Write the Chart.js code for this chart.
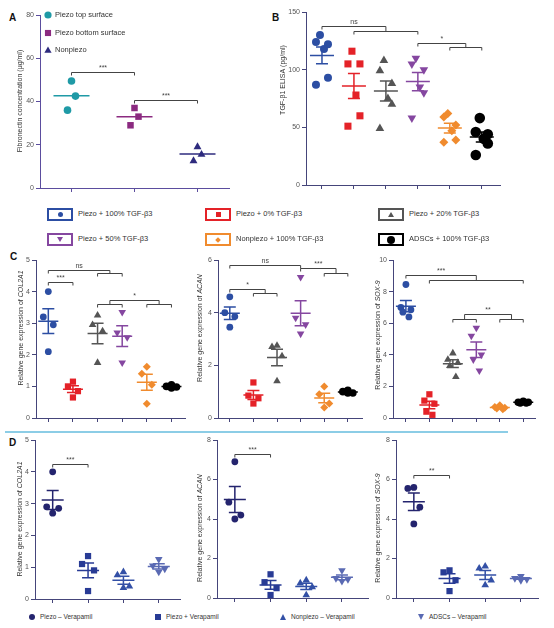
<!DOCTYPE html>
<html>
<head>
<meta charset="utf-8">
<script src="https://cdn.jsdelivr.net/npm/chart.js@4.4.0/dist/chart.umd.min.js"></script>
<style>
  body { margin: 0; width: 554px; height: 628px; position: relative; background: #fff; overflow: hidden;
         font-family: "Liberation Sans", Arial, sans-serif; }
  canvas { position: absolute; }
  .letter { position: absolute; font-weight: bold; font-size: 10px; color: #111; }
  .sep { position: absolute; left: 5px; top: 431px; width: 503px; height: 2px; background: #8ccde6; }
  .box { position: absolute; width: 22px; height: 9px; border: 2px solid; display: flex; align-items: center; justify-content: center; }
  .ltxt { position: absolute; font-size: 7.5px; color: #333; white-space: nowrap; line-height: 10px; }
  .dtxt { position: absolute; font-size: 6.5px; color: #333; white-space: nowrap; line-height: 8px; }
  .mk { position: absolute; }
</style>
</head>
<body>
<div class="letter" style="left:9px;top:12px">A</div>
<div class="letter" style="left:272px;top:12px">B</div>
<div class="letter" style="left:10px;top:251px">C</div>
<div class="letter" style="left:9px;top:437px">D</div>
<div class="sep"></div>
<div id="root"></div>
<script>
// ---- panel A: fibronectin (µg/ml)
const aSeries = ['Piezo top surface', 'Piezo bottom surface', 'Nonpiezo'];
const aTop = [49.5, 42.5, 36];
const aBottom = [37, 33, 29];
const aNon = [19, 15.5, 12.5];

// ---- panel B / C groups
const bcGroups = ['Piezo + 100% TGF-β3', 'Piezo + 0% TGF-β3', 'Piezo + 20% TGF-β3',
                  'Piezo + 50% TGF-β3', 'Nonpiezo + 100% TGF-β3', 'ADSCs + 100% TGF-β3'];
// B: TGF-β1 ELISA (pg/ml), one array per group
const bTgf = [
  [130, 124, 122, 118, 93, 87],
  [116, 105, 105, 78, 60, 51],
  [108, 99, 88, 75, 70, 49],
  [110, 105, 100, 85, 80, 58],
  [62, 59, 52, 47, 39, 37],
  [58, 46, 44, 40, 36, 26]
];
// C: relative gene expression
const cCol2a1 = [
  [4.0, 3.2, 2.95, 2.1],
  [1.15, 1.0, 0.85, 0.65],
  [3.25, 2.95, 2.75, 1.75],
  [3.35, 2.7, 2.55, 1.75],
  [1.62, 1.4, 1.05, 0.45],
  [1.05, 1.0, 0.98, 0.95]
];
const cAcan = [
  [4.6, 4.0, 3.85, 3.45],
  [1.35, 0.85, 0.75, 0.55],
  [2.75, 2.7, 2.35, 1.4],
  [5.35, 3.8, 3.55, 3.2],
  [1.2, 0.9, 0.55, 0.4],
  [1.05, 1.0, 0.95, 0.95]
];
const cSox9 = [
  [8.45, 7.0, 6.85, 6.7, 6.4],
  [1.5, 1.1, 0.9, 0.4, 0.2],
  [4.1, 3.7, 3.5, 3.3, 2.6],
  [5.7, 5.2, 4.0, 3.7, 3.0],
  [0.8, 0.7, 0.65, 0.6, 0.55],
  [1.05, 1.0, 1.0, 0.95, 0.95]
];

// ---- panel D: verapamil
const dGroups = ['Piezo – Verapamil', 'Piezo + Verapamil', 'Nonpiezo – Verapamil', 'ADSCs – Verapamil'];
const dCol2a1 = [
  [4.0, 2.9, 2.85, 2.7],
  [1.35, 1.1, 0.9, 0.25],
  [0.85, 0.75, 0.4, 0.35],
  [1.25, 1.05, 0.95, 0.85]
];
const dAcan = [
  [6.9, 4.85, 4.2, 4.0],
  [1.2, 0.8, 0.5, 0.15],
  [0.9, 0.75, 0.55, 0.15],
  [1.4, 1.0, 0.95, 0.85]
];
const dSox9 = [
  [5.6, 5.55, 4.6, 3.75],
  [1.4, 1.3, 0.9, 0.35],
  [1.6, 1.5, 0.9, 0.65],
  [1.1, 1.0, 0.95, 0.9]
];

const FF = '"Liberation Sans", Arial, sans-serif';
const aColors = ['#1f9aa6', '#8b2a80', '#2e2b7e'];
const bcColors = ['#2c4ea3', '#e42228', '#555555', '#8547a0', '#f08b2e', '#000000'];
const dColors = ['#24246e', '#283b95', '#3350a6', '#5a6ab3'];
const bcStyles = ['circle', 'rect', 'triangle', 'triangleDown', 'rectRot', 'circle'];
const dStyles = ['circle', 'rect', 'triangle', 'triangleDown'];
const jitterPx = { 3: [0, 4, -4], 4: [0, -5, 5, 0], 5: [0, -5, 5, -3, 3], 6: [-2, -6, 6, 2, 6, -6] };

function drawShape(ctx, style, x, y, r, color) {
  ctx.fillStyle = color;
  ctx.beginPath();
  if (style === 'circle') ctx.arc(x, y, r, 0, Math.PI * 2);
  else if (style === 'rect') { const s = r * 0.85; ctx.rect(x - s, y - s, 2 * s, 2 * s); }
  else if (style === 'triangle') { ctx.moveTo(x, y - r); ctx.lineTo(x + r, y + r * 0.75); ctx.lineTo(x - r, y + r * 0.75); }
  else if (style === 'triangleDown') { ctx.moveTo(x, y + r); ctx.lineTo(x + r, y - r * 0.75); ctx.lineTo(x - r, y - r * 0.75); }
  else if (style === 'rectRot') { ctx.moveTo(x, y - r); ctx.lineTo(x + r, y); ctx.lineTo(x, y + r); ctx.lineTo(x - r, y); }
  ctx.closePath();
  ctx.fill();
}

function drawYTitle(ctx, parts, cx, cy) {
  ctx.save();
  ctx.translate(cx, cy);
  ctx.rotate(-Math.PI / 2);
  const fonts = parts.map(p => (p.i ? 'italic ' : '') + '7px ' + FF);
  const widths = parts.map((p, k) => { ctx.font = fonts[k]; return ctx.measureText(p.t).width; });
  let x = -widths.reduce((a, b) => a + b, 0) / 2;
  ctx.textAlign = 'left';
  ctx.textBaseline = 'middle';
  ctx.fillStyle = '#333';
  parts.forEach((p, k) => { ctx.font = fonts[k]; ctx.fillText(p.t, x, 0); x += widths[k]; });
  ctx.restore();
}

function overlay(p) {
  return {
    id: 'overlay',
    afterDatasetsDraw(chart) {
      const ctx = chart.ctx, xs = chart.scales.x, ys = chart.scales.y;
      ctx.save();
      ctx.lineWidth = p.lw;
      p.groups.forEach((vals, g) => {
        const n = vals.length;
        const m = vals.reduce((a, b) => a + b, 0) / n;
        const sd = Math.sqrt(vals.reduce((a, v) => a + (v - m) * (v - m), 0) / (n - 1));
        const sem = sd / Math.sqrt(n);
        const cx = xs.getPixelForValue(g + 1), my = ys.getPixelForValue(m);
        ctx.strokeStyle = p.colors[g];
        ctx.beginPath();
        ctx.moveTo(cx - p.meanHW, my); ctx.lineTo(cx + p.meanHW, my);
        if (p.sem) {
          const t = ys.getPixelForValue(m + sem), b = ys.getPixelForValue(m - sem);
          ctx.moveTo(cx, t); ctx.lineTo(cx, b);
          ctx.moveTo(cx - p.capHW, t); ctx.lineTo(cx + p.capHW, t);
          ctx.moveTo(cx - p.capHW, b); ctx.lineTo(cx + p.capHW, b);
        }
        ctx.stroke();
      });
      ctx.restore();
    },
    afterDraw(chart) {
      const ctx = chart.ctx, xs = chart.scales.x, ys = chart.scales.y;
      ctx.save();
      // significance brackets
      ctx.strokeStyle = '#444';
      ctx.lineWidth = 1;
      ctx.fillStyle = '#444';
      ctx.font = '7px ' + FF;
      ctx.textAlign = 'center';
      ctx.textBaseline = 'bottom';
      const drop = 3;
      (p.brackets || []).forEach(br => {
        const py = Math.round(ys.getPixelForValue(br.y)) + 0.5;
        const side = s => {
          if (Array.isArray(s)) {
            const py2 = Math.round(ys.getPixelForValue(br.y2)) + 0.5;
            const x1 = xs.getPixelForValue(s[0]), x2 = xs.getPixelForValue(s[1]);
            ctx.beginPath();
            ctx.moveTo(x1, py2 + drop); ctx.lineTo(x1, py2); ctx.lineTo(x2, py2); ctx.lineTo(x2, py2 + drop);
            ctx.stroke();
            return { x: (x1 + x2) / 2, to: py2 };
          }
          return { x: xs.getPixelForValue(s), to: py + drop };
        };
        const L = side(br.a), R = side(br.b);
        ctx.beginPath();
        ctx.moveTo(L.x, L.to); ctx.lineTo(L.x, py); ctx.lineTo(R.x, py); ctx.lineTo(R.x, R.to);
        ctx.stroke();
        ctx.fillText(br.t, (L.x + R.x) / 2, py - 1);
      });
      // y axis title
      const top = p.canvasTop, left = p.canvasLeft;
      drawYTitle(ctx, p.title, p.titleX - left, p.titleY - top);
      // in-plot legend (panel A)
      if (p.legend) {
        ctx.textAlign = 'left';
        ctx.textBaseline = 'middle';
        ctx.font = '7.5px ' + FF;
        p.legend.labels.forEach((lab, k) => {
          const x = p.legend.x - left, y = p.legend.ys[k] - top;
          drawShape(ctx, p.legend.styles[k], x, y, 3.6, p.colors[k]);
          ctx.fillStyle = '#333';
          ctx.fillText(lab, x + 7, y);
        });
      }
      ctx.restore();
    }
  };
}

function makePanel(p) {
  const yw = 40, padTop = 10, padRight = 6, xh = 10;
  p.canvasLeft = p.axisX - yw;
  p.canvasTop = p.yTop - padTop;
  const w = p.xEnd + padRight - p.canvasLeft;
  const h = p.yBot + xh - p.canvasTop;
  const cv = document.createElement('canvas');
  cv.width = w; cv.height = h;
  cv.style.left = p.canvasLeft + 'px';
  cv.style.top = p.canvasTop + 'px';
  document.getElementById('root').appendChild(cv);

  const spacing = (p.xEnd - p.axisX) / (p.xMax - p.xMin);
  const datasets = p.groups.map((vals, g) => {
    const jit = jitterPx[vals.length] || [];
    const st = p.styles[g];
    return {
      data: vals.map((v, i) => ({ x: g + 1 + (jit[i] || 0) * p.jitter / spacing, y: v })),
      pointStyle: st === 'triangleDown' ? 'triangle' : st,
      rotation: st === 'triangleDown' ? 180 : 0,
      pointRadius: p.radii[g],
      backgroundColor: p.colors[g],
      borderColor: p.colors[g],
      borderWidth: 0,
      showLine: false
    };
  });
  const axisColor = p.axisColor || '#45457a';
  const n = p.groups.length;
  new Chart(cv, {
    type: 'scatter',
    data: { datasets },
    options: {
      responsive: false,
      animation: false,
      devicePixelRatio: 1,
      layout: { padding: { left: 0, top: padTop, right: padRight, bottom: 0 } },
      plugins: { legend: { display: false }, tooltip: { enabled: false } },
      scales: {
        x: {
          type: 'linear', min: p.xMin, max: p.xMax,
          afterBuildTicks: s => { s.ticks = Array.from({ length: n }, (_, i) => ({ value: i + 1 })); },
          afterFit: s => { s.height = xh; },
          ticks: { display: false },
          grid: { display: true, drawOnChartArea: false, drawTicks: true, tickLength: 4, color: axisColor, lineWidth: 1 },
          border: { display: true, color: axisColor, width: 1 }
        },
        y: {
          min: 0, max: p.yMax,
          afterFit: s => { s.width = yw; },
          ticks: { stepSize: p.step, font: { size: 7, family: FF }, color: '#555', padding: 2 },
          grid: { display: true, drawOnChartArea: false, drawTicks: true, tickLength: 4, color: axisColor, lineWidth: 1 },
          border: { display: true, color: axisColor, width: 1 }
        }
      }
    },
    plugins: [overlay(p)]
  });
}

const gene = g => [{ t: 'Relative gene expression of ' }, { t: g, i: true }];

makePanel({
  groups: [aTop, aBottom, aNon], colors: aColors, styles: ['circle', 'rect', 'triangle'], radii: [3.8, 4.6, 4.6],
  axisX: 40, yTop: 15, yBot: 188, xEnd: 229, xMin: 0.5, xMax: 3.5, yMax: 80, step: 20, jitter: 1,
  axisColor: '#5b4d9e', title: [{ t: 'Fibronectin concentration (μg/ml)' }], titleX: 20, titleY: 101,
  meanHW: 18, sem: false, lw: 1.5,
  brackets: [{ a: 1, b: 2, y: 53.5, t: '***' }, { a: 2, b: 3, y: 40.5, t: '***' }],
  legend: { labels: aSeries, styles: ['circle', 'rect', 'triangle'], x: 48, ys: [15, 33, 50] }
});
makePanel({
  groups: bTgf, colors: bcColors, styles: bcStyles, radii: [4, 5, 5, 5, 4.5, 5.3],
  axisX: 306, yTop: 12, yBot: 185, xEnd: 500, xMin: 0.5, xMax: 6.57, yMax: 150, step: 50, jitter: 1,
  title: [{ t: 'TGF-β1 ELISA (pg/ml)' }], titleX: 283, titleY: 80,
  meanHW: 12, capHW: 6, sem: true, lw: 1.5,
  brackets: [{ a: 1, b: [2, 4], y: 137.9, y2: 133.5, t: 'ns' }, { a: 4, b: [5, 6], y: 123, y2: 119.6, t: '*' }]
});
makePanel({
  groups: cCol2a1, colors: bcColors, styles: bcStyles, radii: [3.4, 4.4, 4.4, 4.4, 4, 3.8],
  axisX: 36, yTop: 260, yBot: 418, xEnd: 185, xMin: 0.5, xMax: 6.55, yMax: 5, step: 1, jitter: 1,
  title: gene('COL2A1'), titleX: 21, titleY: 328,
  meanHW: 10, capHW: 6, sem: true, lw: 1.5,
  brackets: [{ a: 1, b: [3, 4], y: 4.68, y2: 4.59, t: 'ns' }, { a: 1, b: 2, y: 4.3, t: '***' },
             { a: [3, 4], b: [5, 6], y: 3.73, y2: 3.61, t: '*' }]
});
makePanel({
  groups: cAcan, colors: bcColors, styles: bcStyles, radii: [3.4, 4.4, 4.4, 4.4, 4, 3.8],
  axisX: 218, yTop: 260, yBot: 418, xEnd: 362, xMin: 0.5, xMax: 6.6, yMax: 6, step: 2, jitter: 1,
  title: gene('ACAN'), titleX: 200, titleY: 328,
  meanHW: 10, capHW: 6, sem: true, lw: 1.5,
  brackets: [{ a: 1, b: 4, y: 5.81, t: 'ns' }, { a: 1, b: [2, 3], y: 4.9, y2: 4.75, t: '*' },
             { a: 4, b: [5, 6], y: 5.7, y2: 5.5, t: '***' }]
});
makePanel({
  groups: cSox9, colors: bcColors, styles: bcStyles, radii: [3.4, 4.4, 4.4, 4.4, 4, 3.8],
  axisX: 393, yTop: 260, yBot: 418, xEnd: 535, xMin: 0.45, xMax: 6.5, yMax: 10, step: 2, jitter: 1,
  title: gene('SOX-9'), titleX: 378, titleY: 335,
  meanHW: 10, capHW: 6, sem: true, lw: 1.5,
  brackets: [{ a: 1, b: [2, 6], y: 9.05, y2: 8.73, t: '***' }, { a: [3, 4], b: [5, 6], y: 6.58, y2: 6.27, t: '**' }]
});
makePanel({
  groups: dCol2a1, colors: dColors, styles: dStyles, radii: [3.4, 4.4, 4.4, 4.4],
  axisX: 35, yTop: 440, yBot: 599, xEnd: 180, xMin: 0.5, xMax: 4.6, yMax: 5, step: 1, jitter: 1.2,
  title: gene('COL2A1'), titleX: 20, titleY: 519,
  meanHW: 11, capHW: 6, sem: true, lw: 1.5,
  brackets: [{ a: 1, b: 2, y: 4.25, t: '***' }]
});
makePanel({
  groups: dAcan, colors: dColors, styles: dStyles, radii: [3.4, 4.4, 4.4, 4.4],
  axisX: 217, yTop: 440, yBot: 598, xEnd: 368, xMin: 0.5, xMax: 4.73, yMax: 8, step: 2, jitter: 1.2,
  title: gene('ACAN'), titleX: 200, titleY: 528,
  meanHW: 11, capHW: 6, sem: true, lw: 1.5,
  brackets: [{ a: 1, b: 2, y: 7.29, t: '***' }]
});
makePanel({
  groups: dSox9, colors: dColors, styles: dStyles, radii: [3.4, 4.4, 4.4, 4.4],
  axisX: 396, yTop: 440, yBot: 598, xEnd: 538, xMin: 0.5, xMax: 4.48, yMax: 8, step: 2, jitter: 1.2,
  title: gene('SOX-9'), titleX: 378, titleY: 528,
  meanHW: 11, capHW: 6, sem: true, lw: 1.5,
  brackets: [{ a: 1, b: 2, y: 6.23, t: '**' }]
});

// ---- HTML legends
function shapeEl(style, color, size) {
  const el = document.createElement('div');
  const s = size;
  if (style === 'circle') Object.assign(el.style, { width: s + 'px', height: s + 'px', borderRadius: '50%', background: color });
  else if (style === 'rect') Object.assign(el.style, { width: s + 'px', height: s + 'px', background: color });
  else if (style === 'rectRot') Object.assign(el.style, { width: (s - 1) + 'px', height: (s - 1) + 'px', background: color, transform: 'rotate(45deg)' });
  else if (style === 'triangle') Object.assign(el.style, { width: 0, height: 0, borderLeft: (s / 2 + 0.5) + 'px solid transparent', borderRight: (s / 2 + 0.5) + 'px solid transparent', borderBottom: s + 'px solid ' + color });
  else if (style === 'triangleDown') Object.assign(el.style, { width: 0, height: 0, borderLeft: (s / 2 + 0.5) + 'px solid transparent', borderRight: (s / 2 + 0.5) + 'px solid transparent', borderTop: s + 'px solid ' + color });
  return el;
}

const root = document.getElementById('root');
const legCols = [47, 205, 378], legRows = [208, 233];
bcGroups.forEach((name, i) => {
  const x = legCols[i % 3], y = legRows[Math.floor(i / 3)];
  const box = document.createElement('div');
  box.className = 'box';
  box.style.left = x + 'px'; box.style.top = y + 'px'; box.style.borderColor = bcColors[i];
  box.appendChild(shapeEl(bcStyles[i], bcColors[i], i === 5 ? 8 : 5));
  root.appendChild(box);
  const t = document.createElement('div');
  t.className = 'ltxt'; t.textContent = name;
  t.style.left = (x + 31) + 'px'; t.style.top = (y + 1) + 'px';
  root.appendChild(t);
});

const dLegX = [32, 158, 283, 421];
dGroups.forEach((name, i) => {
  const m = shapeEl(dStyles[i], dColors[i], 6);
  m.classList.add('mk');
  m.style.left = (dLegX[i] - 3) + 'px'; m.style.top = '614px';
  root.appendChild(m);
  const t = document.createElement('div');
  t.className = 'dtxt'; t.textContent = name;
  t.style.left = (dLegX[i] + 8) + 'px'; t.style.top = '613px';
  root.appendChild(t);
});
</script>
</body>
</html>
